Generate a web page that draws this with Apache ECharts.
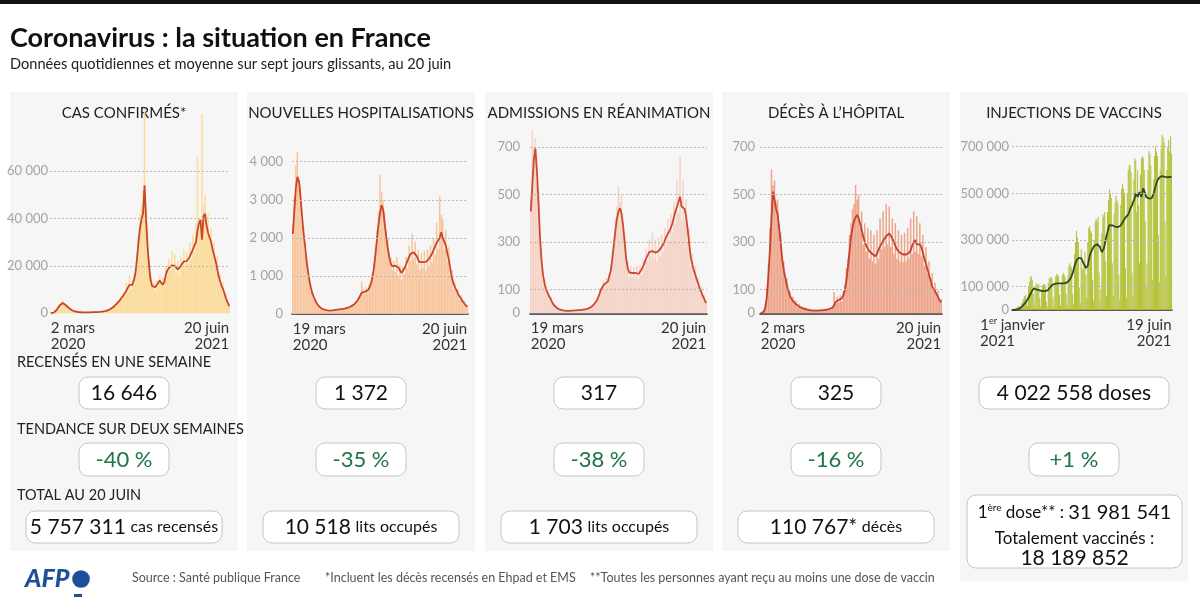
<!DOCTYPE html>
<html><head><meta charset="utf-8">
<script src="https://cdn.jsdelivr.net/npm/echarts@6/dist/echarts.min.js"></script>
<style>html,body{margin:0;padding:0;background:#fff}#c{width:1200px;height:597px}</style>
</head><body><div id="c"></div>
<script>
// ---------- DATA ----------
// Cas confirmés : 2 mars 2020 -> 20 juin 2021, un point tous les 4 jours
const casesDaily = [40,100,300,900,1800,3000,3900,4600,5200,4200,
3600,2500,2400,1500,1400,900,850,600,700,450,
500,380,450,350,420,380,480,420,550,470,
600,520,680,620,780,750,1100,1000,1500,1500,
2400,2300,3500,3400,5000,4500,7000,5800,9000,7800,
13000,9500,16000,10000,14000,12000,20000,25000,33000,42000,
45000,52000,86000,46000,35000,23000,17000,12000,13000,9500,
14000,11000,16000,13000,15000,11000,20000,16000,23000,18000,
26000,19000,25000,17000,22000,16000,24000,19000,27000,20000,
26000,21000,30000,23000,33000,26000,38000,66000,40000,37000,
84000,45000,50000,35000,42000,30000,36000,25000,30000,20000,
24000,14000,17000,10000,13000,7500,8000,4000,3500];
const casesAvg = [30,80,250,700,1500,2500,3400,4100,4300,3900,
3400,2800,2200,1700,1300,1000,800,650,550,500,
450,420,400,380,380,400,420,450,480,500,
520,560,600,650,700,800,950,1100,1300,1600,
2000,2500,3000,3600,4300,5000,5800,6600,7500,8500,
9600,10800,12000,11500,12000,14000,17000,23000,30000,36000,
39500,42000,54000,40000,28000,20000,14000,11500,10800,11000,
11800,12800,13800,14300,12000,13000,16000,18000,19000,19800,
20200,20300,20000,19200,18500,18500,20000,21000,21900,21500,
22000,22500,24000,25500,27000,28500,30000,35000,38000,39400,
31000,41000,42000,37000,34000,32000,30000,27000,24500,22000,
19000,15500,13500,11500,10000,8000,6000,4500,3000];
// Nouvelles hospitalisations : 19 mars 2020 -> 20 juin 2021
const hospDaily = [2300,3100,3900,4250,3300,3400,2400,2300,1600,1500,
1000,900,600,560,380,350,240,220,160,150,
110,120,90,105,80,100,85,110,100,125,
110,135,120,150,130,165,150,200,180,250,
230,330,310,450,430,850,650,520,700,560,
800,700,1100,1350,1800,2200,2700,3650,3200,3000,
2700,2200,1950,1600,1500,1150,1400,1100,1500,1000,
1300,900,1250,1050,1500,1200,1800,1400,2100,1450,
1900,1300,1700,1150,1600,1200,1650,1150,1700,1250,
1800,1350,2000,1550,2400,1700,3100,2600,2500,1700,
2200,1400,1750,1000,1150,650,850,520,650,380,
500,270,350,190,220];
const hospAvg = [2100,2700,3300,3600,3500,3100,2600,2150,1800,1400,
1100,850,660,520,420,330,260,210,170,140,
120,110,100,95,90,90,95,100,110,115,
120,125,130,135,140,150,165,180,200,220,
250,290,340,400,480,560,600,580,590,620,
680,780,950,1200,1550,1950,2350,2650,2860,2750,
2400,2050,1750,1500,1330,1250,1240,1270,1290,1220,
1150,1080,1070,1200,1300,1400,1500,1580,1610,1620,
1610,1520,1420,1360,1350,1360,1350,1370,1400,1450,
1520,1580,1680,1780,1870,1930,2000,2150,2000,1900,
1800,1600,1420,1180,950,800,700,620,520,460,
400,330,280,230,190];
// Admissions en réanimation : 19 mars 2020 -> 20 juin 2021
const icuDaily = [480,770,700,740,560,520,300,250,140,150,
85,100,60,70,38,42,22,28,14,20,
10,15,9,13,8,12,9,14,9,15,
10,16,11,17,13,19,15,24,19,30,
26,45,40,65,62,105,92,140,110,150,
120,165,200,260,300,400,450,534,470,500,
360,340,210,220,150,200,150,195,150,200,
145,200,165,230,190,270,220,310,240,340,
230,310,220,320,240,330,260,360,290,400,
310,420,340,470,380,560,420,660,390,560,
400,480,300,360,200,250,150,200,115,150,
80,110,55,75,40];
const icuAvg = [430,540,650,695,600,470,320,220,160,125,
100,85,70,60,45,35,28,22,18,15,
13,12,11,10,10,10,10,11,11,12,
12,13,13,14,15,16,18,20,22,25,
30,37,45,55,70,88,105,115,124,128,
132,140,180,230,290,350,400,430,443,420,
370,300,230,190,172,168,170,167,170,168,
166,170,185,198,215,232,245,258,263,262,
258,256,255,262,268,280,290,305,322,335,
345,360,380,405,430,450,470,492,450,445,
440,405,350,290,235,205,180,160,140,120,
100,85,70,55,43];
// Décès à l'hôpital : 2 mars 2020 -> 20 juin 2021
const deathsDaily = [0,4,12,40,110,210,360,607,540,560,
470,480,380,340,240,220,140,150,85,95,
55,70,38,55,25,40,18,30,15,26,
12,20,10,18,9,16,8,15,9,17,
10,18,11,20,12,24,16,30,90,40,
70,45,75,50,95,120,190,230,330,380,
440,460,541,480,500,360,430,290,380,260,
360,230,350,220,330,210,350,230,400,270,
430,280,460,290,450,280,400,250,380,230,
350,220,330,215,340,220,360,230,400,250,
430,260,410,250,380,240,330,200,280,165,
220,125,170,95,130,70,95,48,60];
const deathsAvg = [0,3,7,25,70,160,270,400,513,480,
440,420,360,300,230,185,150,120,95,75,
62,52,45,38,32,28,24,22,20,18,
16,14,13,12,12,11,11,11,12,12,
13,13,14,15,16,18,20,24,35,48,
54,56,58,63,75,98,140,195,260,320,
360,390,405,415,400,378,350,325,300,285,
272,262,258,250,244,240,252,268,282,295,
305,315,325,332,337,330,316,300,285,270,
262,255,250,248,246,248,252,255,265,285,
300,309,290,298,292,278,255,230,210,185,
162,140,115,102,93,80,66,54,46];
// Injections de vaccins : 1er janvier -> 19 juin 2021 (quotidien)
const vaccDaily = [100,300,200,
5000,8000,12000,15000,18000,10000,3000,
30000,40000,50000,60000,65000,40000,15000,
100000,120000,140000,145000,130000,70000,20000,
95000,110000,115000,105000,110000,50000,15000,
90000,105000,110000,110000,105000,35000,12000,
115000,135000,140000,140000,135000,55000,15000,
120000,145000,155000,150000,145000,65000,18000,
110000,150000,160000,150000,140000,70000,20000,
150000,190000,200000,190000,180000,70000,25000,
240000,290000,340000,310000,290000,95000,30000,
260000,180000,170000,190000,250000,150000,50000,
290000,350000,360000,340000,330000,130000,40000,
300000,380000,390000,380000,400000,160000,45000,
90000,330000,410000,400000,420000,210000,60000,
420000,470000,518000,500000,480000,200000,60000,
410000,460000,490000,470000,460000,150000,45000,
450000,520000,540000,520000,500000,180000,50000,
500000,600000,620000,620000,590000,160000,60000,
560000,650000,640000,420000,600000,450000,200000,
580000,650000,660000,650000,600000,380000,100000,
200000,600000,680000,670000,620000,470000,130000,
560000,660000,700000,680000,660000,320000,120000,
600000,690000,750000,740000,720000,380000,140000,
600000,700000,730000,680000,745000,670000];
const vaccAvg = [0,200,500,1000,1800,2800,4000,5500,7500,10000,
14000,18000,23000,28000,33000,38000,45000,52000,60000,67000,
75000,84000,92000,93000,90000,88000,87000,86000,85000,84000,
83000,82000,81000,81000,81000,81000,81000,82000,86000,92000,
98000,103000,107000,109000,111000,112000,113000,113000,114000,114000,
114000,114000,114000,114000,114000,115000,116000,116000,118000,121000,
125000,131000,138000,145000,158000,173000,190000,202000,212000,218000,
222000,226000,228000,222000,214000,205000,196000,188000,180000,179000,
190000,212000,232000,243000,253000,262000,270000,275000,278000,280000,
282000,283000,280000,270000,258000,248000,250000,262000,280000,300000,
318000,335000,350000,364000,366000,365000,363000,360000,358000,357000,
356000,355000,355000,356000,358000,362000,368000,375000,382000,390000,
395000,400000,405000,410000,420000,432000,440000,450000,460000,464000,
480000,500000,495000,485000,490000,505000,495000,485000,505000,522000,
518000,500000,485000,479000,478000,478000,478000,479000,479000,485000,
500000,515000,529000,545000,555000,563000,568000,571000,572000,574000,
573000,572000,571000,570000,570000,569000,569000,570000,571000,571000];

// Tick labels
const casesTicks = [0,20000,40000,60000];
const hospTicks = [0,1000,2000,3000,4000];
const icuTicks = [0,100,300,500,700];
const deathsTicks = [0,100,300,500,700];
const vaccTicks = [0,100000,300000,500000,700000];
const xStartLabels = ['2 mars\n2020','19 mars\n2020','19 mars\n2020','2 mars\n2020','{n|1}{sup|er}{n| janvier}\n{n|2021}{pad|}'];
const xEndLabels = ['20 juin\n2021','20 juin\n2021','20 juin\n2021','20 juin\n2021','19 juin\n2021'];

// Texts
const panelTitles = ['CAS CONFIRMÉS*','NOUVELLES HOSPITALISATIONS','ADMISSIONS EN RÉANIMATION','DÉCÈS À L\u2019HÔPITAL','INJECTIONS DE VACCINS'];
const weekValues = ['16 646','1 372','317','325','4 022 558 doses'];
const trendValues = ['-40 %','-35 %','-38 %','-16 %','+1 %'];
const totalBig = ['5 757 311','10 518','1 703','110 767*'];
const totalSmall = ['cas recensés','lits occupés','lits occupés','décès'];
const vaccFirstDose = '31 981 541';
const vaccFull = '18 189 852';

// ---------- LAYOUT ----------
const FONT = 'Lato, "Noto Sans", sans-serif';
const layout = [
  {grid:{left:50, top:171, width:180, height:142.3}, margin:2, bar:'#fcdb98', line:'#c9462a', axis:false, gap:'0%', minAlign:'left'},
  {grid:{left:292, top:161.7, width:176, height:152.3}, margin:9, bar:'#f8c59c', line:'#c9462a', axis:true, gap:'0%', minAlign:'left'},
  {grid:{left:530, top:147.3, width:177, height:166}, margin:10, bar:'#f5d3c6', line:'#cc4a2e', axis:true, gap:'0%', minAlign:'left'},
  {grid:{left:760, top:147.3, width:182, height:166}, margin:5, bar:'#eda58b', line:'#c5412a', axis:true, gap:'0%', minAlign:'left'},
  {grid:{left:1012, top:146.7, width:160, height:163.3}, margin:3, bar:'#b2c133', line:'#2e4a1f', axis:true, gap:'15%', minAlign:'center'}
];
const sets = [
  {daily:casesDaily, avg:casesAvg, ticks:casesTicks},
  {daily:hospDaily, avg:hospAvg, ticks:hospTicks},
  {daily:icuDaily, avg:icuAvg, ticks:icuTicks},
  {daily:deathsDaily, avg:deathsAvg, ticks:deathsTicks},
  {daily:vaccDaily, avg:vaccAvg, ticks:vaccTicks}
];
function fmt(v){ return String(v).replace(/\B(?=(\d{3})+(?!\d))/g, ' '); }

const grids = [], xAxes = [], yAxes = [], series = [];
sets.forEach((s, k) => {
  const L = layout[k];
  const n = s.daily.length;
  const cats = s.daily.map((_, i) => String(i));
  const ticks = s.ticks;
  let step = Infinity;
  for (let i = 1; i < ticks.length; i++) step = Math.min(step, ticks[i] - ticks[i-1]);
  grids.push(L.grid);
  xAxes.push({
    type:'category', gridIndex:k, data:cats, boundaryGap:true,
    axisLine:{show:L.axis, lineStyle:{color:'#2a2a2a', width:1.6}},
    axisTick:{show:false},
    axisLabel:{
      interval:(i)=> i===0 || i===n-1,
      formatter:(v, i)=> i===0 ? xStartLabels[k] : xEndLabels[k],
      color:'#333', fontSize:15, fontFamily:FONT, lineHeight:16, margin:7,
      alignMinLabel:L.minAlign, alignMaxLabel:'right',
      rich:{n:{fontSize:15, color:'#333', fontFamily:FONT, lineHeight:16},
            sup:{fontSize:9, color:'#333', fontFamily:FONT, verticalAlign:'top', lineHeight:16},
            pad:{width:30, lineHeight:16}}
    }
  });
  yAxes.push({
    type:'value', gridIndex:k, min:0, max:ticks[ticks.length-1], interval:step,
    axisLine:{show:false}, axisTick:{show:false}, splitLine:{show:false},
    axisLabel:{color:'#a3a3a3', fontSize:13, fontFamily:FONT, margin:L.margin,
      formatter:(v)=> ticks.indexOf(v) >= 0 ? fmt(v) : ''}
  });
  series.push({
    type:'line', xAxisIndex:k, yAxisIndex:k, data:[], silent:true, z:1,
    markLine:{silent:true, symbol:['none','none'], label:{show:false}, animation:false,
      lineStyle:{color:'#b9b9b9', type:[2,2], width:1},
      data:ticks.filter(t=>t>0).map(t=>({yAxis:t}))}
  });
  series.push({type:'bar', xAxisIndex:k, yAxisIndex:k, data:s.daily, barCategoryGap:L.gap,
    itemStyle:{color:L.bar}, clip:false, silent:true, z:2});
  series.push({type:'line', xAxisIndex:k, yAxisIndex:k, data:s.avg, symbol:'none', showSymbol:false,
    lineStyle:{color:L.line, width:1.8}, clip:false, silent:true, z:3});
});

// ---------- GRAPHICS (panels, boxes, texts) ----------
const panelX = [10, 247, 485, 722, 960];
const panelW = 228;
const G = [];
function txt(x, y, text, font, fill, align){
  return {type:'text', x:x, y:y, silent:true,
    style:{text:text, font:font, fill:fill, align:align||'left', textAlign:align||'left', verticalAlign:'middle', textVerticalAlign:'middle'}};
}
function rich(x, y, text, richDef){
  return {type:'text', x:x, y:y, silent:true,
    style:{text:text, rich:richDef, align:'center', textAlign:'center', verticalAlign:'middle', textVerticalAlign:'middle', fill:'#111', font:'18px '+FONT}};
}
function box(x, y, w, h){
  return {type:'rect', silent:true, shape:{x:x, y:y, width:w, height:h, r:9}, style:{fill:'#ffffff', stroke:'#c6c6c6', lineWidth:1}};
}
G.push({type:'rect', silent:true, shape:{x:0, y:0, width:1200, height:4}, style:{fill:'#111'}});
panelX.forEach((x, k) => {
  G.push({type:'rect', silent:true, z:-1, shape:{x:x, y:92, width:panelW, height:k===4 ? 489 : 459}, style:{fill:'#f6f6f6'}});
});
G.push(txt(10, 38, 'Coronavirus : la situation en France', 'bold 27px ' + FONT, '#111'));
G.push(txt(10, 64, 'Données quotidiennes et moyenne sur sept jours glissants, au 20 juin', '14.6px ' + FONT, '#222'));
panelTitles.forEach((t, k) => G.push(txt(panelX[k] + panelW/2, 113, t, '15px ' + FONT, '#222', 'center')));
G.push(txt(17, 362, 'RECENSÉS EN UNE SEMAINE', '14.5px ' + FONT, '#222'));
G.push(txt(17, 429, 'TENDANCE SUR DEUX SEMAINES', '14.5px ' + FONT, '#222'));
G.push(txt(17, 495, 'TOTAL AU 20 JUIN', '14.5px ' + FONT, '#222'));

const bigRich = {b:{fontSize:21, fontFamily:FONT, fill:'#111', color:'#111'}, s:{fontSize:16, fontFamily:FONT, fill:'#111', color:'#111'}};
panelX.forEach((x, k) => {
  const cx = x + panelW/2;
  const w1 = k===4 ? 190 : 90;
  G.push(box(cx - w1/2, 377, w1, 32));
  G.push(txt(cx, 393, weekValues[k], '21px ' + FONT, '#111', 'center'));
  G.push(box(cx - 45, 443, 90, 33));
  G.push(txt(cx, 460, trendValues[k], '22px ' + FONT, '#1f7444', 'center'));
  if (k < 4) {
    G.push(box(cx - 98, 511, 196, 32));
    G.push(rich(cx, 527, '{b|' + totalBig[k] + '} {s|' + totalSmall[k] + '}', bigRich));
  }
});
// vaccine total box
G.push(box(967, 495, 215, 73));
G.push(rich(1074.5, 513, '{n|1}{sup|ère}{n| dose** : }{b|' + vaccFirstDose + '}',
  {n:{fontSize:17, fontFamily:FONT, fill:'#111'}, sup:{fontSize:10, fontFamily:FONT, fill:'#111', verticalAlign:'top'}, b:{fontSize:20, fontFamily:FONT, fill:'#111'}}));
G.push(txt(1074.5, 539, 'Totalement vaccinés :', '17px ' + FONT, '#111', 'center'));
G.push(txt(1074.5, 558, vaccFull, '21px ' + FONT, '#111', 'center'));

// footer
G.push(txt(25, 579, 'AFP', 'italic 900 25px ' + FONT, '#1d4f9c'));
G.push({type:'circle', silent:true, shape:{cx:81, cy:579, r:8.8}, style:{fill:'#1d4f9c'}});
G.push({type:'rect', silent:true, shape:{x:74, y:594, width:8, height:3}, style:{fill:'#1d4f9c'}});
G.push(txt(132, 578, 'Source : Santé publique France', '12.5px ' + FONT, '#555'));
G.push(txt(325, 578, '*Incluent les décès recensés en Ehpad et EMS', '12.5px ' + FONT, '#555'));
G.push(txt(590, 578, '**Toutes les personnes ayant reçu au moins une dose de vaccin', '12.5px ' + FONT, '#555'));

const chart = echarts.init(document.getElementById('c'), null, {renderer:'canvas'});
chart.setOption({
  animation:false,
  backgroundColor:'#ffffff',
  textStyle:{fontFamily:FONT},
  grid:grids, xAxis:xAxes, yAxis:yAxes, series:series,
  graphic:{elements:G}
});
</script></body></html>
